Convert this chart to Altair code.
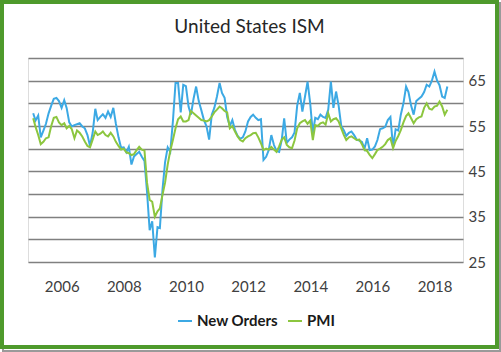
import altair as alt
import pandas as pd

series_names = ["New Orders", "PMI"]
series_colors = ["#3ca9e4", "#8cc63f"]

# Monthly values, Jan 2005 - May 2018
new_orders = [
    57.8, 56.2, 57.3, 52.5, 54.0, 55.5, 57.8, 59.5, 61.0, 61.2, 60.5, 59.0,  # 2005
    60.7, 59.0, 55.8, 54.9, 55.2, 55.4, 55.6, 54.9, 54.5, 53.0, 50.6, 53.5,  # 2006
    58.8, 56.3, 57.0, 57.6, 56.8, 58.2, 57.0, 59.0, 55.5, 52.5, 50.2, 50.3,  # 2007
    49.2, 50.4, 46.5, 48.3, 48.8, 49.3, 48.2, 47.3, 40.5, 32.0, 34.0, 26.0,  # 2008
    32.7, 32.5, 41.0, 47.0, 50.3, 49.3, 56.0, 64.5, 64.5, 58.0, 64.1, 63.8,  # 2009
    59.3, 57.5, 61.0, 63.7, 60.5, 58.5, 56.3, 54.9, 52.0, 57.5, 59.0, 61.5,  # 2010
    64.5, 62.3, 61.2, 57.0, 55.0, 56.3, 54.1, 52.8, 52.2, 52.5, 53.8, 56.0,  # 2011
    57.0, 57.5, 56.8, 56.3, 56.5, 47.5, 48.2, 49.7, 53.0, 50.8, 49.5, 49.3,  # 2012
    52.0, 56.7, 51.3, 52.0, 52.5, 53.6, 59.5, 62.3, 58.2, 61.5, 64.8, 60.0,  # 2013
    53.4, 56.8, 56.5, 57.5, 57.0, 56.8, 58.6, 64.8, 59.0, 62.6, 59.5, 55.0,  # 2014
    54.0, 52.8, 53.5, 53.8, 53.0, 52.0, 51.8, 51.5, 50.0, 52.3, 49.7, 49.8,  # 2015
    50.5, 51.9, 54.3, 54.5, 54.8, 56.3, 57.0, 50.3, 54.3, 54.0, 57.5, 60.0,  # 2016
    63.7, 62.5, 59.5, 57.5, 60.5, 61.0, 61.5, 62.5, 64.1, 63.7, 65.0, 67.0,  # 2017
    65.0, 64.0, 61.5, 61.2, 63.7,                                            # 2018
]
pmi = [
    56.7, 54.8, 53.0, 51.0, 51.5, 52.3, 52.5, 55.0, 56.8, 57.0, 55.8, 55.2,  # 2005
    55.6, 54.5, 55.0, 54.3, 52.3, 54.0, 53.5, 52.7, 51.6, 50.6, 50.3, 52.0,  # 2006
    53.8, 53.0, 53.3, 53.8, 53.0, 52.7, 53.5, 52.7, 51.5, 50.6, 49.8, 50.0,  # 2007
    49.2, 49.0, 48.6, 48.8, 49.7, 50.4, 49.8, 49.6, 42.5, 38.7, 38.3, 35.0,  # 2008
    36.2, 36.8, 39.8, 42.5, 46.5, 49.5, 51.9, 54.5, 56.5, 57.1, 56.0, 56.0,  # 2009
    56.3, 58.3, 57.8, 57.3, 56.8, 56.3, 56.2, 56.0, 56.3, 57.1, 58.0, 58.6,  # 2010
    59.3, 58.9, 58.3, 58.0, 54.5, 55.0, 53.8, 52.7, 51.9, 51.6, 52.3, 52.7,  # 2011
    53.0, 53.4, 53.5, 52.5, 51.2, 49.7, 50.0, 49.8, 50.4, 49.8, 49.3, 50.5,  # 2012
    52.0, 52.5, 50.8, 50.3, 50.1, 51.8, 54.5, 55.6, 56.0, 56.3, 55.5, 56.2,  # 2013
    51.9, 55.2, 55.0, 55.6, 55.8, 55.3, 57.8, 56.0, 56.5, 56.7, 56.0, 54.5,  # 2014
    53.0, 51.9, 52.5, 52.7, 52.3, 51.9, 52.0, 51.0, 49.7, 49.5, 48.6, 47.9,  # 2015
    48.8, 49.7, 50.0, 50.4, 51.0, 51.9, 52.3, 50.1, 51.7, 52.8, 54.1, 55.8,  # 2016
    57.2, 57.8, 56.7, 55.6, 56.5, 56.9, 57.1, 59.0, 60.0, 58.8, 58.6, 59.3,  # 2017
    59.5, 60.4, 59.3, 57.5, 58.6,                                            # 2018
]
label_years = [2006, 2008, 2010, 2012, 2014, 2016, 2018]
y_ticks = [25, 30, 35, 40, 45, 50, 55, 60, 65, 70]

n = len(pmi)
dates = pd.date_range("2005-01-31", periods=n, freq="ME").strftime("%Y-%m-%d").tolist()
df = pd.DataFrame({
    "date": dates + dates,
    "value": new_orders + pmi,
    "series": [series_names[0]] * n + [series_names[1]] * n,
})

FONT = "Lato"

lines = alt.Chart(df).mark_line(strokeWidth=2, clip=True).encode(
    x=alt.X("date:T",
            scale=alt.Scale(domain=["2004-12-01", "2018-12-01"]),
            axis=alt.Axis(values=[alt.DateTime(year=y, month=1, date=1, utc=True) for y in label_years],
                          labelExpr="utcFormat(datum.value, '%Y')",
                          grid=False, domain=False, ticks=False, labelPadding=17,
                          labelFontSize=15, labelColor="#404040", labelFont=FONT),
            title=None),
    y=alt.Y("value:Q",
            scale=alt.Scale(domain=[25, 70], zero=False, nice=False),
            axis=alt.Axis(orient="right", values=y_ticks,
                          labelExpr="datum.value % 10 == 5 ? datum.label : ''",
                          grid=True, gridColor="#808080", gridWidth=1.5,
                          domain=False, ticks=False, labelPadding=5,
                          labelFontSize=15, labelColor="#404040", labelFont=FONT),
            title=None),
    color=alt.Color("series:N",
                    scale=alt.Scale(domain=series_names, range=series_colors),
                    legend=alt.Legend(orient="none", legendX=149, legendY=255,
                                      direction="horizontal", title=None,
                                      symbolType="stroke", symbolStrokeWidth=2, symbolSize=196,
                                      labelFont=FONT, labelFontSize=15, labelFontWeight="bold",
                                      labelColor="#1a1a1a", labelOffset=4, columnPadding=6)),
)

frame_data = pd.DataFrame({"k": [0]})
shadow = alt.Chart(frame_data).mark_rect(fillOpacity=0, stroke="#9a9a9a", strokeWidth=2).encode(
    x=alt.value(-25), x2=alt.value(472), y=alt.value(-55), y2=alt.value(293))
border = alt.Chart(frame_data).mark_rect(fillOpacity=0, stroke="#4e9a2c", strokeWidth=4).encode(
    x=alt.value(-26), x2=alt.value(469), y=alt.value(-56), y2=alt.value(289))

chart = alt.layer(shadow, border, lines).properties(
    width=435, height=204,
    padding={"left": 28, "top": 58, "right": 38, "bottom": 90},
    autosize=alt.AutoSizeParams(type="none"),
    title=alt.TitleParams("United States ISM", font=FONT, fontSize=19, fontWeight="normal",
                          color="#262626", anchor="middle", frame="group", offset=-37, dx=4),
).configure_view(stroke=None).configure(background="white")

chart.save("out.html", embed_options={"renderer": "svg", "actions": False})
